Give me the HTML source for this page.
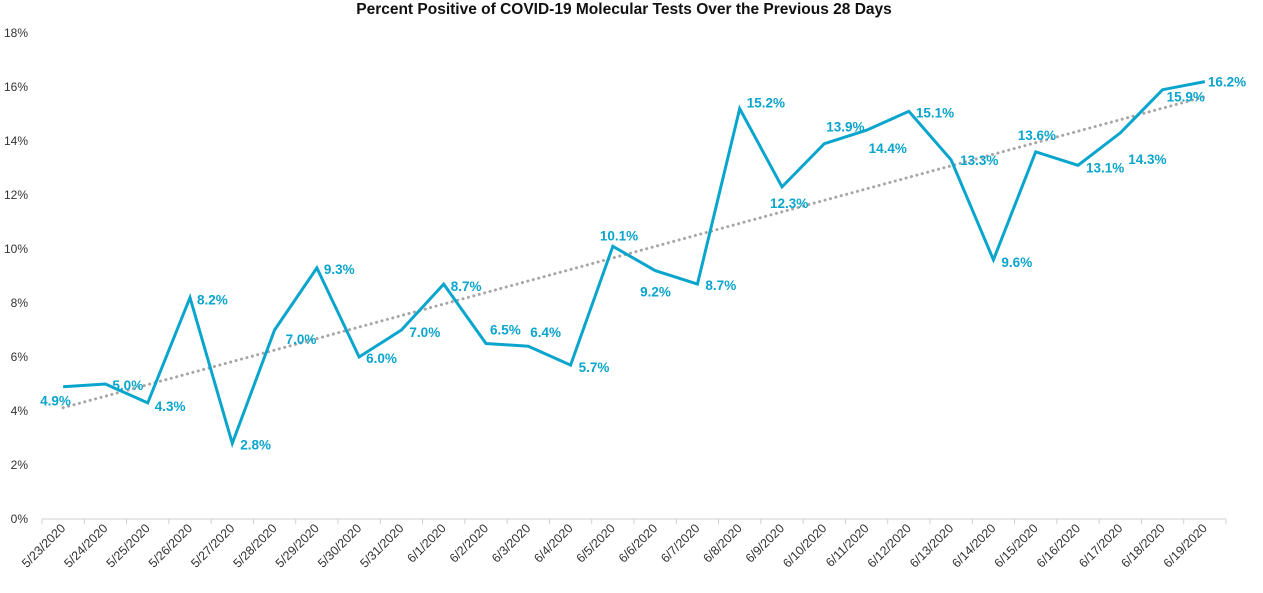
<!DOCTYPE html>
<html><head><meta charset="utf-8"><style>
html,body{margin:0;padding:0;background:#fff;}
svg{display:block;font-family:"Liberation Sans",sans-serif;}
</style></head><body>
<svg id="chart" width="1263" height="593">
<text x="624" y="14" text-anchor="middle" font-size="15.5" font-weight="bold" fill="#111">Percent Positive of COVID-19 Molecular Tests Over the Previous 28 Days</text>
<g id="yaxis"></g>
<g id="xaxis"></g>
<g id="trend"></g>
<g id="series"></g>
<g id="labels"></g>
</svg>
<script>
const categories = ["5/23/2020","5/24/2020","5/25/2020","5/26/2020","5/27/2020","5/28/2020","5/29/2020","5/30/2020","5/31/2020","6/1/2020","6/2/2020","6/3/2020","6/4/2020","6/5/2020","6/6/2020","6/7/2020","6/8/2020","6/9/2020","6/10/2020","6/11/2020","6/12/2020","6/13/2020","6/14/2020","6/15/2020","6/16/2020","6/17/2020","6/18/2020","6/19/2020"];
const values = [4.9,5.0,4.3,8.2,2.8,7.0,9.3,6.0,7.0,8.7,6.5,6.4,5.7,10.1,9.2,8.7,15.2,12.3,13.9,14.4,15.1,13.3,9.6,13.6,13.1,14.3,15.9,16.2];
const yTicks = [0,2,4,6,8,10,12,14,16,18];
// label placement relative to point (styling): [dx, dy]
const labelOffsets = [[-23,19],[7,6],[7,8],[7,7],[8,6],[11,14],[7,6],[7,6],[8,7],[7,7],[4,-9],[2,-9],[8,7],[-13,-6],[-15,26],[8,6],[7,-1],[-12,21],[2,-12],[2,23],[7,6],[9,5],[8,7],[-18,-12],[8,7],[8,31],[4,12],[3,5]];
const NS="http://www.w3.org/2000/svg";
const L=42, R=1226, Y0=519, PX=27;
const step=(R-L)/categories.length;
const xs=i=>L+step*(i+0.5);
const ys=v=>Y0-v*PX;
function mk(tag,attrs,parent){const e=document.createElementNS(NS,tag);for(const k in attrs)e.setAttribute(k,attrs[k]);parent.appendChild(e);return e;}
const yg=document.getElementById('yaxis');
yTicks.forEach(t=>{const e=mk('text',{x:28,y:ys(t)+4,'text-anchor':'end','font-size':12,fill:'#333'},yg);


e.textContent=t+'%';});
const xg=document.getElementById('xaxis');
const ax=mk('line',{x1:L,y1:Y0,x2:R,y2:Y0,stroke:'#d0d0d0','stroke-width':1},xg);


for(let i=0;i<=categories.length;i++){const t=mk('line',{x1:L+step*i,y1:Y0,x2:L+step*i,y2:Y0+5,stroke:'#d0d0d0'},xg);

}
categories.forEach((c,i)=>{const x=xs(i)+3,y=Y0+10;const e=mk('text',{x:x,y:y,'text-anchor':'end','font-size':12.5,fill:'#333',transform:`rotate(-45 ${x} ${y})`},xg);


e.textContent=c;});
// trendline (linear regression)
const n=values.length;let sx=0,sy=0,sxy=0,sxx=0;
values.forEach((v,i)=>{sx+=i;sy+=v;sxy+=i*v;sxx+=i*i;});
const b=(n*sxy-sx*sy)/(n*sxx-sx*sx),a=(sy-b*sx)/n;
const tl=mk('line',{x1:xs(0),y1:ys(a),x2:xs(n-1),y2:ys(a+b*(n-1)),stroke:'#a6a6a6','stroke-width':3,'stroke-dasharray':'0.1 5.5','stroke-linecap':'round'},document.getElementById('trend'));


const pts=values.map((v,i)=>xs(i)+','+ys(v)).join(' ');
const pl=mk('polyline',{points:pts,fill:'none',stroke:'#0aa5cd','stroke-width':3,'stroke-linejoin':'miter'},document.getElementById('series'));


const lg=document.getElementById('labels');
values.forEach((v,i)=>{const o=labelOffsets[i];const e=mk('text',{x:xs(i)+o[0],y:ys(v)+o[1],'font-size':13.5,'font-weight':'bold',fill:'#0aa5cd'},lg);


e.textContent=v.toFixed(1)+'%';});
</script>
</body></html>
